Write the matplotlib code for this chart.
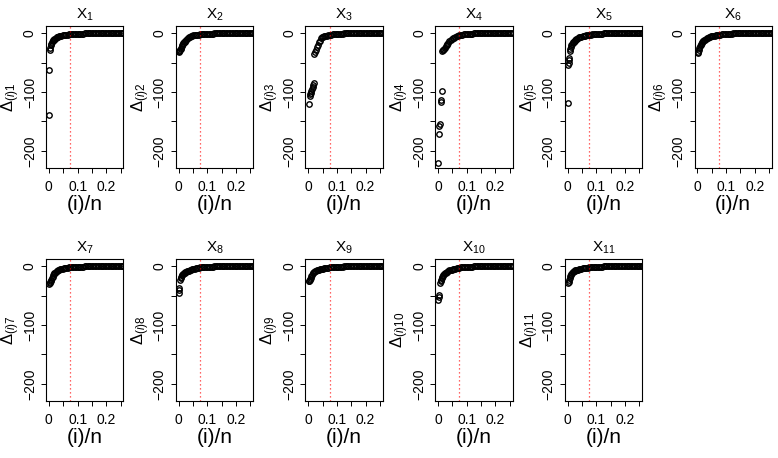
import numpy as np
import matplotlib
matplotlib.use("Agg")
import matplotlib.pyplot as plt

plt.rcParams['font.family'] = ['Liberation Sans', 'DejaVu Sans']
plt.rcParams['mathtext.fontset'] = 'custom'
plt.rcParams['mathtext.rm'] = 'Liberation Sans'
plt.rcParams['mathtext.it'] = 'Liberation Sans:italic'

nan = np.nan

# ---- data --------------------------------------------------------------
TITLES = ["1", "2", "3", "4", "5", "6", "7", "8", "9", "10", "11"]

# x positions (i)/n of the main curve, shared by all panels
HEAD_X = [0.003, 0.005, 0.007, 0.009, 0.011, 0.013, 0.015, 0.017, 0.019, 0.021,
          0.024, 0.027, 0.030, 0.033, 0.036, 0.040, 0.044, 0.048, 0.052, 0.056,
          0.060, 0.065, 0.070, 0.075, 0.080, 0.085, 0.090, 0.095, 0.100]

HEAD_Y = {
    "1": [-29, -25, -21, -18, -16, -14, -12.5, -11.5, -10.5, -9.5, -8.5, -7.5, -6.8, -6.2, -5.6,
          -5, -4.5, -4, -3.6, -3.3, -3, -2.6, -2.3, -2, -1.7, -1.5, -1.3, -1.1, -1.0],
    "2": [-31, -29, -27, -25, -22, -20, -19, -17.5, -16, -15, -13.5, -12, -10.5, -9, -7.5,
          -6, -5, -4.2, -3.8, -3.4, -3.1, -2.8, -2.5, -2.2, -1.9, -1.7, -1.5, -1.3, -1.1],
    "3": [nan, -107, -104, -101, -98, -95, -92, -88, -84, -36, -32, -28, -24, -20, -16,
          -14, -8.5, -7.5, -6.5, -5.7, -5, -4.3, -3.6, -3, -2.5, -2.1, -1.8, -1.5, -1.3],
    "4": [nan, nan, nan, nan, nan, nan, -30, -29, -28, -27, -25, -22.5, -20.5, -18.5, -16.5,
          -14, -12, -10.5, -9, -7.8, -6.8, -5.6, -4.6, -3.8, -3.1, -2.6, -2.2, -1.8, -1.5],
    "5": [nan, nan, -30, -27, -24, -21, -19, -17.5, -16, -14.5, -13, -11.5, -10.3, -9.3, -8.4,
          -7.5, -6.7, -6, -5.4, -4.9, -4.4, -3.9, -3.4, -3, -2.6, -2.3, -2, -1.7, -1.5],
    "6": [-32, -28, -25, -22.5, -20.5, -18.5, -17, -15.5, -14.3, -13.2, -12, -11, -10, -9, -8.2,
          -7.3, -6.5, -5.8, -5.2, -4.7, -4.3, -3.8, -3.3, -2.9, -2.5, -2.2, -1.9, -1.6, -1.4],
    "7": [-29, -27, -25, -23, -21, -18, -15, -13.5, -12.3, -11.3, -10, -9, -8, -7.2, -6.5,
          -5.7, -5, -4.5, -4, -3.6, -3.2, -2.8, -2.4, -2.1, -1.8, -1.6, -1.4, -1.2, -1.0],
    "8": [nan, -24, -21, -18, -16, -14.5, -13.5, -12.7, -12, -11.3, -10.5, -9.7, -9, -8.3, -7.7,
          -7, -6.3, -5.6, -5, -4.4, -3.8, -3.2, -2.6, -2, -1.6, -1.3, -1.1, -1.0, -0.9],
    "9": [-25, -23, -21.5, -19.5, -17, -14.5, -12.5, -11, -10, -9.3, -8.6, -8, -7.4, -6.9, -6.4,
          -5.8, -5.2, -4.7, -4.2, -3.8, -3.4, -2.9, -2.5, -2.1, -1.8, -1.5, -1.3, -1.1, -0.9],
    "10": [nan, nan, -29, -26, -23, -20.5, -18.5, -16.5, -15, -13.8, -12.5, -11.3, -10.2, -9.3, -8.5,
           -7.5, -6.7, -6, -5.4, -4.8, -4.3, -3.7, -3.2, -2.7, -2.3, -2, -1.7, -1.5, -1.3],
    "11": [-27, -24, -20, -17, -14.5, -12.8, -11.5, -10.5, -9.7, -9, -8.2, -7.5, -6.9, -6.4, -5.9,
           -5.3, -4.8, -4.3, -3.9, -3.6, -3.3, -2.9, -2.6, -2.3, -2, -1.8, -1.6, -1.4, -1.2],
}

# the flat tail looks the same in every panel
TAIL_X = [0.105, 0.110, 0.115, 0.120, 0.125, 0.130, 0.135, 0.140, 0.145, 0.150, 0.155,
          0.160, 0.165, 0.170, 0.175, 0.180, 0.185, 0.190, 0.195, 0.200, 0.205, 0.210,
          0.215, 0.220, 0.225, 0.230, 0.235, 0.240, 0.245, 0.250, 0.255, 0.260]
TAIL_Y = [-0.9, -0.85, -0.8, -0.75, -0.7, -0.65, -0.6, -0.58, -0.55, -0.5, -0.48,
          -0.45, -0.42, -0.4, -0.38, -0.35, -0.33, -0.3, -0.28, -0.26, -0.24, -0.22,
          -0.2, -0.18, -0.16, -0.15, -0.14, -0.12, -0.1, -0.1, -0.08, -0.06]

# isolated low points at the start of each panel
EXTRA_X = {
    "1": [0.001, 0.002], "2": [0.001, 0.002], "3": [0.001],
    "4": [0.001, 0.003, 0.005, 0.007, 0.009, 0.011, 0.013],
    "5": [0.001, 0.002, 0.003, 0.004, 0.005], "6": [0.001], "7": [0.001],
    "8": [0.001, 0.002, 0.003], "9": [0.001], "10": [0.001, 0.002, 0.003], "11": [0.001],
}
EXTRA_Y = {
    "1": [-139, -62], "2": [-32, -31], "3": [-121],
    "4": [-220, -172, -157, -154, -117, -113, -98],
    "5": [-118, -55, -51, -46, -42], "6": [-34], "7": [-30],
    "8": [-45, -41, -38], "9": [-26], "10": [-57, -53, -49], "11": [-29],
}

CUTOFF = 0.075
X_TICKS = [0, 0.05, 0.10, 0.15, 0.20, 0.25]
X_TICKLABELS = ["0", "", "0.1", "", "0.2", ""]
Y_TICKS = [-200, -150, -100, -50, 0]
Y_TICKLABELS = ["\u2212200", "", "\u2212100", "", "0"]

# ---- figure ------------------------------------------------------------
W, H = 778, 458
fig = plt.figure(figsize=(W / 100, H / 100), dpi=100)

col_left0, col_step, ax_w = 46, 129.7, 77.5
rows = [(26, 168), (259, 401)]

for k, name in enumerate(TITLES):
    r, c = divmod(k, 6)
    top, bot = rows[r]
    left = col_left0 + c * col_step
    ax = fig.add_axes([left / W, 1 - bot / H, ax_w / W, (bot - top) / H])

    xs = list(EXTRA_X[name]) + HEAD_X + TAIL_X
    ys = list(EXTRA_Y[name]) + HEAD_Y[name] + TAIL_Y
    ax.plot(xs, ys, linestyle='none', marker='o', markersize=3.9,
            markerfacecolor='none', markeredgecolor='black', markeredgewidth=1.0,
            clip_on=True)
    ax.axvline(CUTOFF, color='red', linestyle=(0, (1, 2.2)), linewidth=0.9,
               alpha=0.8)

    ax.set_xlim(-0.01, 0.26)
    ax.set_ylim(-229, 12)
    ax.set_xticks(X_TICKS)
    ax.set_xticklabels(X_TICKLABELS)
    ax.set_yticks(Y_TICKS)
    ax.set_yticklabels(Y_TICKLABELS, rotation=90, va='center')
    ax.tick_params(axis='both', direction='out', length=3.5, width=0.7,
                   labelsize=10, pad=3)
    ax.tick_params(axis='x', pad=5)
    for s in ax.spines.values():
        s.set_linewidth(0.8)

    ax.set_title(r"$\mathrm{X}_{%s}$" % name, fontsize=11, pad=5)
    ax.set_xlabel("(i)/n", fontsize=15, labelpad=1)
    ax.set_ylabel(r"$\Delta_{(i)%s}$" % name, fontsize=12)
    ax.yaxis.set_label_coords(-24.0 / ax_w, 0.5)

fig.savefig("out.png", dpi=100)
